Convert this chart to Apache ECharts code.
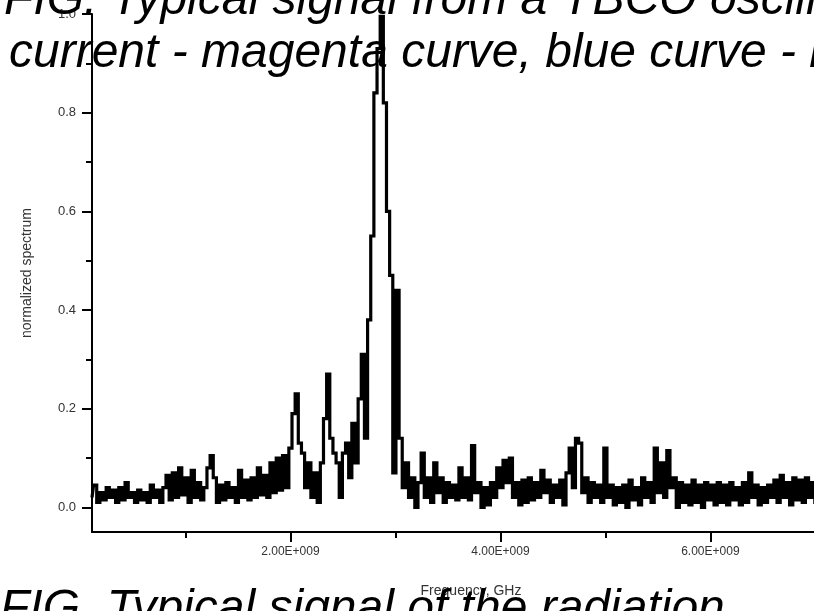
<!DOCTYPE html>
<html>
<head>
<meta charset="utf-8">
<script src="https://cdn.jsdelivr.net/npm/echarts@6/dist/echarts.min.js"></script>
<style>
html,body{margin:0;padding:0;background:#fff;overflow:hidden;width:814px;height:611px;}
#chart{width:850px;height:611px;}
</style>
</head>
<body>
<div id="chart"></div>
<script>
// Frequency samples (GHz)
const freqGHz = [
0.11,0.14,0.17,0.20,0.23,0.26,0.29,0.32,0.35,0.38,
0.41,0.44,0.47,0.50,0.53,0.56,0.59,0.62,0.65,0.68,
0.71,0.74,0.77,0.80,0.83,0.86,0.89,0.92,0.95,0.98,
1.01,1.04,1.07,1.10,1.13,1.16,1.19,1.22,1.25,1.28,
1.31,1.34,1.37,1.40,1.43,1.46,1.49,1.52,1.55,1.58,
1.61,1.64,1.67,1.70,1.73,1.76,1.79,1.82,1.85,1.88,
1.91,1.94,1.97,2.00,2.03,2.06,2.09,2.12,2.15,2.18,
2.21,2.24,2.27,2.30,2.33,2.36,2.39,2.42,2.45,2.48,
2.51,2.54,2.57,2.60,2.63,2.66,2.69,2.72,2.75,2.78,
2.81,2.84,2.87,2.90,2.93,2.96,2.99,3.02,3.05,3.08,
3.11,3.14,3.17,3.20,3.23,3.26,3.29,3.32,3.35,3.38,
3.41,3.44,3.47,3.50,3.53,3.56,3.59,3.62,3.65,3.68,
3.71,3.74,3.77,3.80,3.83,3.86,3.89,3.92,3.95,3.98,
4.01,4.04,4.07,4.10,4.13,4.16,4.19,4.22,4.25,4.28,
4.31,4.34,4.37,4.40,4.43,4.46,4.49,4.52,4.55,4.58,
4.61,4.64,4.67,4.70,4.73,4.76,4.79,4.82,4.85,4.88,
4.91,4.94,4.97,5.00,5.03,5.06,5.09,5.12,5.15,5.18,
5.21,5.24,5.27,5.30,5.33,5.36,5.39,5.42,5.45,5.48,
5.51,5.54,5.57,5.60,5.63,5.66,5.69,5.72,5.75,5.78,
5.81,5.84,5.87,5.90,5.93,5.96,5.99,6.02,6.05,6.08,
6.11,6.14,6.17,6.20,6.23,6.26,6.29,6.32,6.35,6.38,
6.41,6.44,6.47,6.50,6.53,6.56,6.59,6.62,6.65,6.68,
6.71,6.74,6.77,6.80,6.83,6.86,6.89,6.92,6.95,6.98,
7.01,7.04,7.07,7.10,7.13,7.16,7.19,7.22,7.25,7.28,
7.31
];
// Normalized spectrum values
const spectrum = [
0.02,0.045,0.01,0.03,0.015,0.04,0.02,0.035,0.01,0.04,
0.015,0.05,0.02,0.03,0.01,0.035,0.015,0.03,0.01,0.045,
0.02,0.035,0.01,0.04,0.065,0.015,0.07,0.02,0.08,0.025,
0.06,0.01,0.075,0.02,0.05,0.015,0.04,0.08,0.105,0.06,
0.01,0.045,0.015,0.05,0.02,0.04,0.01,0.075,0.02,0.055,
0.015,0.06,0.02,0.08,0.025,0.065,0.02,0.09,0.03,0.1,
0.035,0.105,0.04,0.12,0.19,0.23,0.13,0.11,0.04,0.09,
0.02,0.07,0.01,0.09,0.18,0.27,0.14,0.11,0.09,0.02,
0.11,0.13,0.06,0.17,0.09,0.22,0.31,0.14,0.38,0.55,
0.84,0.93,0.995,0.82,0.6,0.47,0.07,0.44,0.14,0.04,
0.09,0.02,0.06,0.0,0.05,0.11,0.02,0.06,0.01,0.09,
0.03,0.06,0.01,0.05,0.02,0.045,0.015,0.08,0.02,0.06,
0.015,0.125,0.03,0.05,0.0,0.04,0.005,0.05,0.02,0.08,
0.04,0.095,0.05,0.10,0.02,0.05,0.005,0.055,0.01,0.06,
0.015,0.05,0.02,0.075,0.03,0.055,0.01,0.045,0.02,0.055,
0.005,0.07,0.12,0.04,0.14,0.13,0.03,0.06,0.01,0.05,
0.02,0.045,0.01,0.12,0.02,0.045,0.005,0.04,0.01,0.045,
0.0,0.055,0.015,0.04,0.005,0.06,0.02,0.05,0.01,0.12,
0.03,0.09,0.02,0.115,0.04,0.06,0.0,0.05,0.01,0.045,
0.005,0.055,0.01,0.045,0.0,0.05,0.015,0.045,0.005,0.05,
0.01,0.045,0.005,0.05,0.015,0.04,0.005,0.05,0.01,0.07,
0.02,0.045,0.005,0.04,0.01,0.045,0.02,0.055,0.01,0.065,
0.02,0.05,0.005,0.06,0.015,0.055,0.01,0.06,0.02,0.05,
0.01,0.045,0.02,0.05,0.01,0.045,0.02,0.05,0.01,0.04,
0.02
];
const xMajorTicksGHz = [2, 4, 6];
const xMinorTicksGHz = [1, 3, 5, 7];
const yMajorTicks = [0.0, 0.2, 0.4, 0.6, 0.8, 1.0];
const yMinorTicks = [0.1, 0.3, 0.5, 0.7, 0.9];
const captionTop1 = 'FIG. Typical signal from a YBCO oscillator';
const captionTop2 = 'current - magenta curve, blue curve - radiation';
const captionBottom = 'FIG. Typical signal of the radiation';

const GHZ = 1e9;
const X_MIN = 0.11 * GHZ, X_MAX = 7.33 * GHZ;
const Y_MIN = -0.05, Y_MAX = 1.0;
const FONT = '"Liberation Sans", Arial, sans-serif';
const CAPTION_FONT = 'italic 48px "Liberation Sans", Arial, sans-serif';
const axisLineStyle = { color: '#000', width: 2 };

const chart = echarts.init(document.getElementById('chart'), null, { renderer: 'canvas' });
chart.setOption({
  animation: false,
  backgroundColor: '#fff',
  grid: { left: 92, right: 0, top: 14, bottom: 79, containLabel: false },
  xAxis: [{
    type: 'value', min: X_MIN, max: X_MAX, position: 'bottom',
    axisLine: { show: true, onZero: false, lineStyle: axisLineStyle },
    axisTick: { show: true, customValues: xMajorTicksGHz.map(v => v * GHZ), length: 10, lineStyle: axisLineStyle },
    axisLabel: { customValues: xMajorTicksGHz.map(v => v * GHZ), margin: 14, fontSize: 12, color: '#333', fontFamily: FONT,
      formatter: v => (v / GHZ).toFixed(2) + 'E+009' },
    splitLine: { show: false },
    name: 'Frequency, GHz', nameLocation: 'middle', nameGap: 52,
    nameTextStyle: { fontSize: 14, color: '#333', fontFamily: FONT }
  }, {
    type: 'value', min: X_MIN, max: X_MAX, position: 'bottom',
    axisLine: { show: false, onZero: false },
    axisTick: { show: true, customValues: xMinorTicksGHz.map(v => v * GHZ), length: 6, lineStyle: axisLineStyle },
    axisLabel: { show: false }, splitLine: { show: false }
  }],
  yAxis: [{
    type: 'value', min: Y_MIN, max: Y_MAX, position: 'left',
    axisLine: { show: true, onZero: false, lineStyle: axisLineStyle },
    axisTick: { show: true, customValues: yMajorTicks, length: 10, lineStyle: axisLineStyle },
    axisLabel: { customValues: yMajorTicks, margin: 16, fontSize: 13, color: '#333', fontFamily: FONT,
      formatter: v => v.toFixed(1) },
    splitLine: { show: false },
    name: 'normalized spectrum', nameLocation: 'middle', nameGap: 58,
    nameTextStyle: { fontSize: 14, color: '#333', fontFamily: FONT }
  }, {
    type: 'value', min: Y_MIN, max: Y_MAX, position: 'left',
    axisLine: { show: false, onZero: false },
    axisTick: { show: true, customValues: yMinorTicks, length: 6, lineStyle: axisLineStyle },
    axisLabel: { show: false }, splitLine: { show: false }
  }],
  series: [{
    type: 'line', xAxisIndex: 0, yAxisIndex: 0,
    data: freqGHz.map((f, i) => [f * GHZ, spectrum[i]]),
    showSymbol: false, step: 'middle',
    lineStyle: { color: '#000', width: 3.2, join: 'miter' },
    z: 3
  }],
  graphic: [
    { type: 'text', left: 4, top: -23, z: 100,
      style: { text: captionTop1, font: CAPTION_FONT, fill: '#000' } },
    { type: 'text', left: 9, top: 30, z: 100,
      style: { text: captionTop2, font: CAPTION_FONT, fill: '#000' } },
    { type: 'text', left: 0, top: 586, z: 100,
      style: { text: captionBottom, font: CAPTION_FONT, fill: '#000' } }
  ]
});
</script>
</body>
</html>
